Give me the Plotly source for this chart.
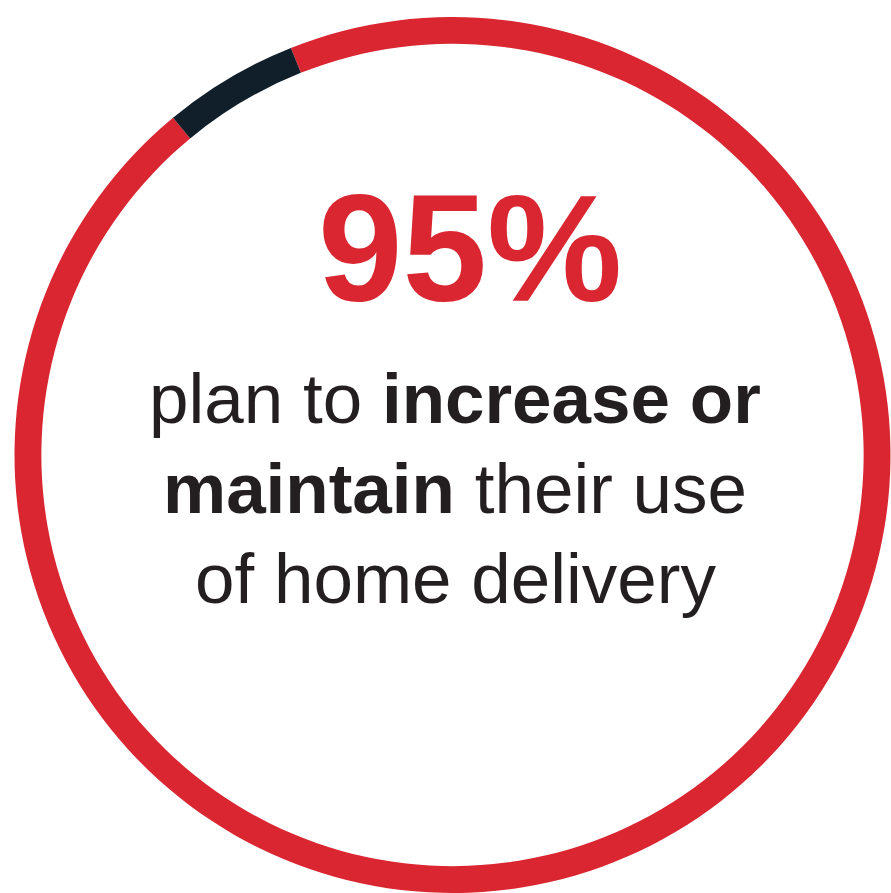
import plotly.graph_objects as go

# Data
labels = ["Increase or maintain", "Other"]
values = [95, 5]
colors = ["#d92630", "#111f2b"]

headline = "<b>95%</b>"
body_lines = [
    "plan to <b>increase or</b>",
    "<b>maintain</b> their use",
    "of home delivery",
]

W, H = 891, 893

fig = go.Figure(
    go.Pie(
        labels=labels,
        values=values,
        hole=0.9387,
        sort=False,
        direction="clockwise",
        rotation=-21.65,
        marker=dict(colors=colors, line=dict(width=0)),
        textinfo="none",
        hoverinfo="label+percent",
        showlegend=False,
        domain=dict(x=[14 / W, 1], y=[0, 1 - 17 / H]),
    )
)

fig.add_annotation(
    text=headline,
    x=470 / W, y=1 - 248 / H, xref="paper", yref="paper",
    xanchor="center", yanchor="middle", showarrow=False,
    font=dict(family="Liberation Sans", size=152, color="#d92630"),
)

body_size = 71
baselines = [423, 513, 603]
for line, base in zip(body_lines, baselines):
    fig.add_annotation(
        text=line,
        x=455 / W, y=1 - (base - 0.3465 * body_size) / H, xref="paper", yref="paper",
        xanchor="center", yanchor="middle", showarrow=False, align="center",
        font=dict(family="Liberation Sans", size=body_size, color="#231f20"),
    )

fig.update_layout(
    width=W, height=H,
    margin=dict(l=0, r=0, t=0, b=0),
    paper_bgcolor="white", plot_bgcolor="white",
)

fig.write_html("out.html")
